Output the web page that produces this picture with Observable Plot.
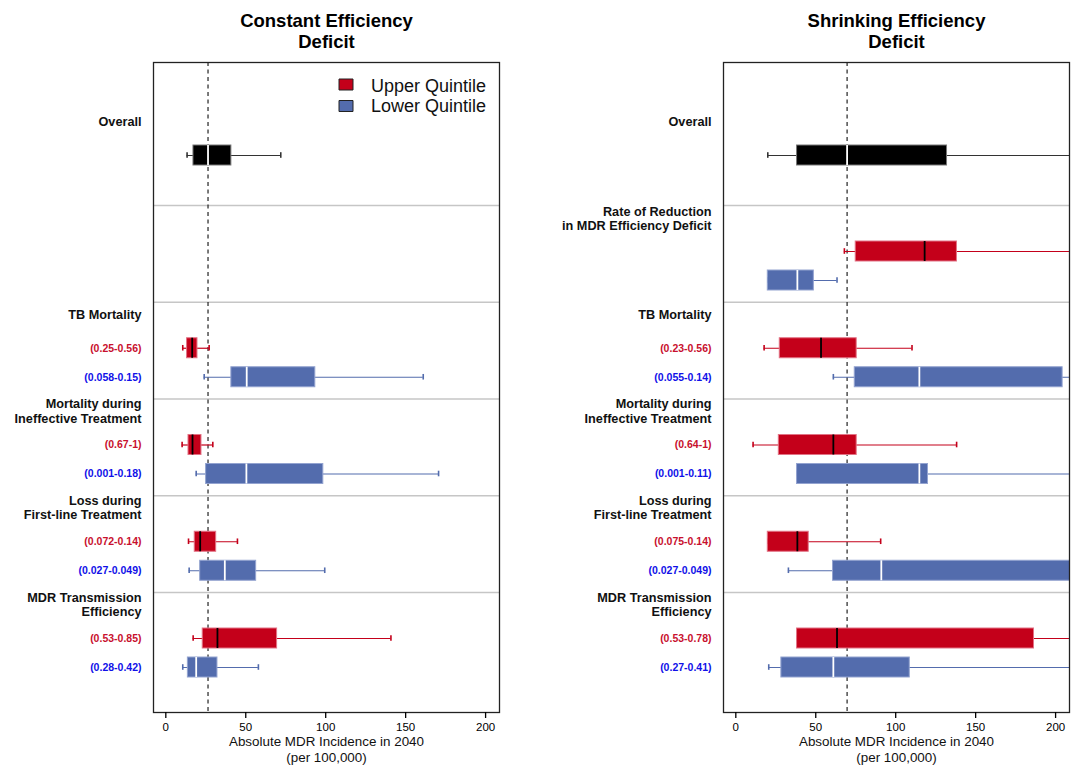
<!DOCTYPE html>
<html><head><meta charset="utf-8">
<script src="https://cdn.jsdelivr.net/npm/d3@7"></script>
<script src="https://cdn.jsdelivr.net/npm/@observablehq/plot@0.6"></script>
<style>
body{margin:0;background:#fff;}
#wrap{display:flex;width:1078px;height:765px;overflow:hidden;}
svg{display:block;flex:none;}
</style></head><body><div id="wrap"></div>
<script>
// ---------- data ----------
const parameters = ["TB Mortality", "Mortality during\nIneffective Treatment", "Loss during\nFirst-line Treatment", "MDR Transmission\nEfficiency"];
const legendLabels = ["Upper Quintile", "Lower Quintile"];
const xTicks = [0, 50, 100, 150, 200];
const axisTitle = "Absolute MDR Incidence in 2040\n(per 100,000)";

// box stats: [whisker low, Q1, median, Q3, whisker high]
const constTitle = "Constant Efficiency\nDeficit";
const constRangesUpper = ["(0.25-0.56)", "(0.67-1)", "(0.072-0.14)", "(0.53-0.85)"];
const constRangesLower = ["(0.058-0.15)", "(0.001-0.18)", "(0.027-0.049)", "(0.28-0.42)"];
const constUpperStats = [
  [10.6, 13.3, 16.5, 19.8, 27.1],
  [10.2, 14.2, 16.7, 22.3, 29.4],
  [14.2, 18.1, 21.5, 31.5, 44.8],
  [17.1, 23.1, 32.3, 69.6, 140.8]];
const constLowerStats = [
  [24.0, 41.0, 50.6, 93.5, 161.0],
  [19.0, 25.2, 50.4, 98.5, 170.6],
  [14.6, 21.5, 36.9, 56.5, 99.4],
  [10.6, 13.8, 19.0, 32.3, 57.9]];
const constOverall = [13.3, 17.3, 26.4, 41.0, 71.9];
const constReference = 26.4;

const shrinkTitle = "Shrinking Efficiency\nDeficit";
const shrinkRangesUpper = ["(0.23-0.56)", "(0.64-1)", "(0.075-0.14)", "(0.53-0.78)"];
const shrinkRangesLower = ["(0.055-0.14)", "(0.001-0.11)", "(0.027-0.049)", "(0.27-0.41)"];
const shrinkUpperStats = [
  [17.7, 27.5, 53.3, 75.6, 110.2],
  [10.8, 26.9, 61.0, 75.6, 138.1],
  [20.0, 20.0, 38.5, 45.6, 90.6],
  [38.3, 38.3, 63.3, 186.5, 240]];
const shrinkLowerStats = [
  [61.0, 74.4, 114.8, 204.4, 260],
  [38.3, 38.3, 114.8, 120.2, 250],
  [32.9, 60.8, 91.0, 215, 300],
  [20.6, 28.5, 61.0, 108.8, 250]];
const shrinkRateLabel = "Rate of Reduction\nin MDR Efficiency Deficit";
const shrinkRateUpper = [67.9, 75.0, 118.1, 138.3, 240];
const shrinkRateLower = [20.0, 20.0, 38.5, 48.8, 63.3];
const shrinkOverall = [20.0, 38.3, 69.6, 132.1, 230];
const shrinkReference = 69.6;

// ---------- styling ----------
const RED = "#C4001A", BLUE = "#536CAD";
const style = {
  overall: {fill: "#000", stroke: "#777", med: "#fff", whisk: "#333"},
  upper:   {fill: RED, stroke: "#E27385", med: "#000", whisk: RED},
  lower:   {fill: BLUE, stroke: "#93A3D0", med: "#fff", whisk: BLUE}
};
const FONT = "Liberation Sans, Arial, Helvetica, sans-serif";

// layout in y units (1 unit = 1 px inside the frame, top to bottom)
const FRAME_H = 650, G0 = 143, GH = 96.75;
const gStart = g => G0 + (g - 1) * GH;
const HEAD = 12, ROW_U = 46, ROW_L = 75, BH = 10, CAP = 2.8;

function rectSymbol(w, h) {
  return {draw(ctx) { ctx.rect(-w / 2, -h / 2, w, h); }};
}

function panel(o) {
  const rows = [{y: 93, s: o.overall, kind: "overall"}];
  const heads = [{y: 59, text: "Overall"}];
  const seps = [G0];
  if (o.rateUpper) {
    rows.push({y: gStart(1) + ROW_U, s: o.rateUpper, kind: "upper"});
    rows.push({y: gStart(1) + ROW_L, s: o.rateLower, kind: "lower"});
    heads.push({y: gStart(1) + HEAD + 1, text: o.rateLabel});
  }
  parameters.forEach((p, i) => {
    const s0 = gStart(i + 2);
    seps.push(s0);
    heads.push({y: s0 + HEAD, text: p});
    rows.push({y: s0 + ROW_U, s: o.upper[i], kind: "upper", label: o.rangesU[i]});
    rows.push({y: s0 + ROW_L, s: o.lower[i], kind: "lower", label: o.rangesL[i]});
  });
  rows.forEach(r => { r.lo = r.s[0]; r.q1 = r.s[1]; r.med = r.s[2]; r.q3 = r.s[3]; r.hi = r.s[4];
    Object.assign(r, {fill: style[r.kind].fill, stroke: style[r.kind].stroke, medc: style[r.kind].med, whisk: style[r.kind].whisk}); });

  const marks = [
    Plot.ruleY(seps, {stroke: "#c6c6c6", strokeWidth: 1.5}),
    Plot.ruleX([o.ref], {stroke: "#222", strokeWidth: 1.2, strokeDasharray: "4,3.5"}),
    Plot.ruleY(rows, {y: "y", x1: "lo", x2: "hi", stroke: "whisk", strokeWidth: 1.2, clip: true}),
    Plot.ruleX(rows, {x: "lo", y1: d => d.y - CAP, y2: d => d.y + CAP, stroke: "whisk", strokeWidth: 1.6, clip: true}),
    Plot.ruleX(rows, {x: "hi", y1: d => d.y - CAP, y2: d => d.y + CAP, stroke: "whisk", strokeWidth: 1.6, clip: true}),
    Plot.rect(rows, {x1: "q1", x2: "q3", y1: d => d.y - BH, y2: d => d.y + BH, fill: "fill", stroke: "stroke", strokeWidth: 1, clip: true}),
    Plot.ruleX(rows, {x: "med", y1: d => d.y - BH, y2: d => d.y + BH, stroke: "medc", strokeWidth: 1.8, clip: true}),
    Plot.frame({stroke: "#222", strokeWidth: 1.3}),
    Plot.axisX({ticks: xTicks, tickSize: 6, tickPadding: 4, label: null, fontSize: 11.5, strokeWidth: 1.3}),
    Plot.text(heads, {y: "y", text: "text", frameAnchor: "left", dx: -12, textAnchor: "end", lineAnchor: "middle", fontWeight: "bold", fontSize: 12.7, lineHeight: 1.12, fill: "#111"}),
    Plot.text(rows.filter(d => d.label && d.kind === "upper"), {y: "y", text: "label", frameAnchor: "left", dx: -12, textAnchor: "end", lineAnchor: "middle", fontWeight: "bold", fontSize: 10.5, fill: "#C8102E"}),
    Plot.text(rows.filter(d => d.label && d.kind === "lower"), {y: "y", text: "label", frameAnchor: "left", dx: -12, textAnchor: "end", lineAnchor: "middle", fontWeight: "bold", fontSize: 10.5, fill: "#1010E8"}),
    Plot.text([o.title], {frameAnchor: "top", dy: -32, lineAnchor: "middle", fontWeight: "bold", fontSize: 18.5, lineHeight: 1.14, fill: "#000"}),
    Plot.text([axisTitle], {frameAnchor: "bottom", dy: 36.5, lineAnchor: "middle", fontSize: 13.4, lineHeight: 1.17, fill: "#111"})
  ];
  if (o.legend) {
    marks.push(
      Plot.dot([0], {frameAnchor: "top-right", dx: -153.5, dy: 22, symbol: rectSymbol(14, 11), fill: RED, stroke: "#222", strokeWidth: 1}),
      Plot.dot([0], {frameAnchor: "top-right", dx: -153.5, dy: 43.5, symbol: rectSymbol(14, 11), fill: BLUE, stroke: "#222", strokeWidth: 1}),
      Plot.text([legendLabels[0]], {frameAnchor: "top-right", dx: -128.5, dy: 23.5, textAnchor: "start", lineAnchor: "middle", fontSize: 18, fill: "#111"}),
      Plot.text([legendLabels[1]], {frameAnchor: "top-right", dx: -128.5, dy: 43.5, textAnchor: "start", lineAnchor: "middle", fontSize: 18, fill: "#111"})
    );
  }
  return Plot.plot({
    width: 539, height: 765,
    marginLeft: o.marginLeft, marginRight: o.marginRight, marginTop: 62, marginBottom: 53,
    x: {domain: [-7.7, 208.7]},
    y: {domain: [0, FRAME_H], reverse: true, axis: null},
    color: {type: "identity"},
    style: {fontFamily: FONT, background: "#fff", overflow: "visible"},
    marks
  });
}

const wrap = document.getElementById("wrap");
wrap.appendChild(panel({
  title: constTitle, overall: constOverall, ref: constReference,
  upper: constUpperStats, lower: constLowerStats,
  rangesU: constRangesUpper, rangesL: constRangesLower,
  marginLeft: 153, marginRight: 40, legend: true
}));
wrap.appendChild(panel({
  title: shrinkTitle, overall: shrinkOverall, ref: shrinkReference,
  upper: shrinkUpperStats, lower: shrinkLowerStats,
  rangesU: shrinkRangesUpper, rangesL: shrinkRangesLower,
  rateUpper: shrinkRateUpper, rateLower: shrinkRateLower, rateLabel: shrinkRateLabel,
  marginLeft: 184, marginRight: 9, legend: false
}));
</script></body></html>
